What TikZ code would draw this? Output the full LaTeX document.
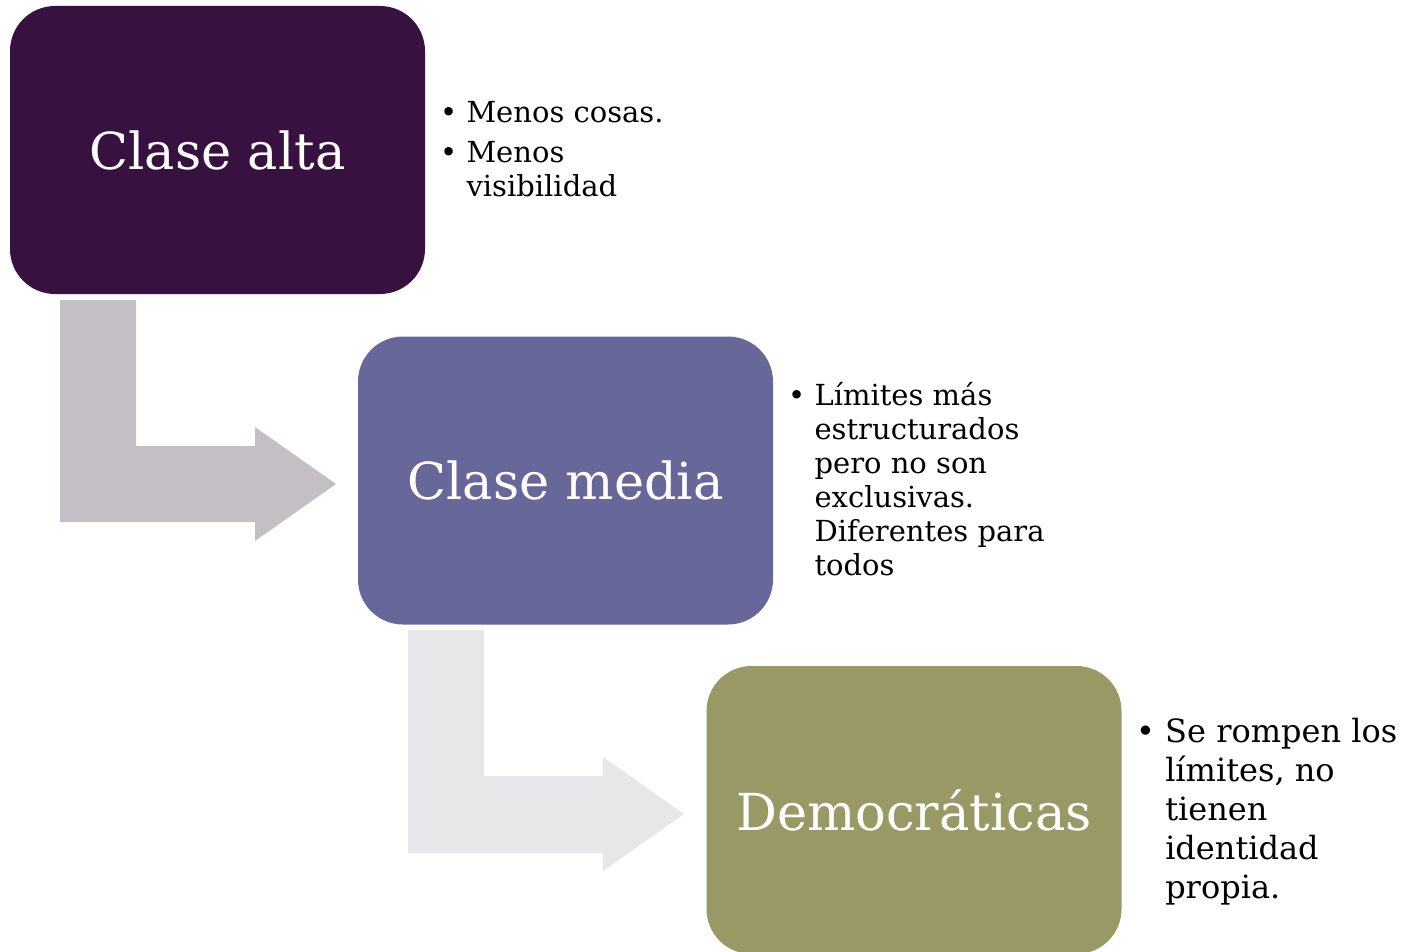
\documentclass[tikz,border=0pt]{standalone}
\usepackage{fontspec}
\setmainfont{DejaVu Serif}
\definecolor{cA}{HTML}{37113F}
\definecolor{cB}{HTML}{67679A}
\definecolor{cC}{HTML}{999966}
\definecolor{arA}{HTML}{C4BEC5}
\definecolor{arB}{HTML}{E7E7E9}
\tikzset{
  box/.style={rounded corners=45pt, inner sep=0pt, minimum width=415pt, minimum height=288pt, text=white, font=\fontsize{51}{60}\selectfont},
  bul/.style={anchor=north west, inner sep=0pt, align=left, text=black},
}
\begin{document}
\begin{tikzpicture}[x=1pt,y=-1pt]
\useasboundingbox (0,0) rectangle (1414,952);
% bent arrows
\fill[arA] (60,300) -- (136,300) -- (136,446) -- (255,446) -- (255,427) -- (336,484) -- (255,541) -- (255,522) -- (60,522) -- cycle;
\fill[arB] (408,630) -- (484,630) -- (484,776) -- (603,776) -- (603,757) -- (684,814) -- (603,871) -- (603,853) -- (408,853) -- cycle;
% boxes
\node[box, fill=cA] (b1) at (217.5,150) {Clase alta};
\node[box, fill=cB] (b2) at (565.5,480.5) {Clase media};
\node[box, fill=cC] (b3) at (914,810) {Democráticas};
% bullets
\node[bul, font=\fontsize{29}{34}\selectfont] (t1) at (440,101) {\textbullet\ Menos cosas.};
\node[bul, font=\fontsize{29}{34}\selectfont] (t2) at (440,141) {\textbullet\ Menos\\\phantom{\textbullet\ }visibilidad};
\node[bul, font=\fontsize{29}{34}\selectfont] (t3) at (788,382) {\textbullet\ Límites más\\\phantom{\textbullet\ }estructurados\\\phantom{\textbullet\ }pero no son\\\phantom{\textbullet\ }exclusivas.\\\phantom{\textbullet\ }Diferentes para\\\phantom{\textbullet\ }todos};
\node[bul, font=\fontsize{32}{39}\selectfont] (t4) at (1136,718) {\textbullet\ Se rompen los\\\phantom{\textbullet\ }límites, no\\\phantom{\textbullet\ }tienen\\\phantom{\textbullet\ }identidad\\\phantom{\textbullet\ }propia.};
\end{tikzpicture}
\end{document}
